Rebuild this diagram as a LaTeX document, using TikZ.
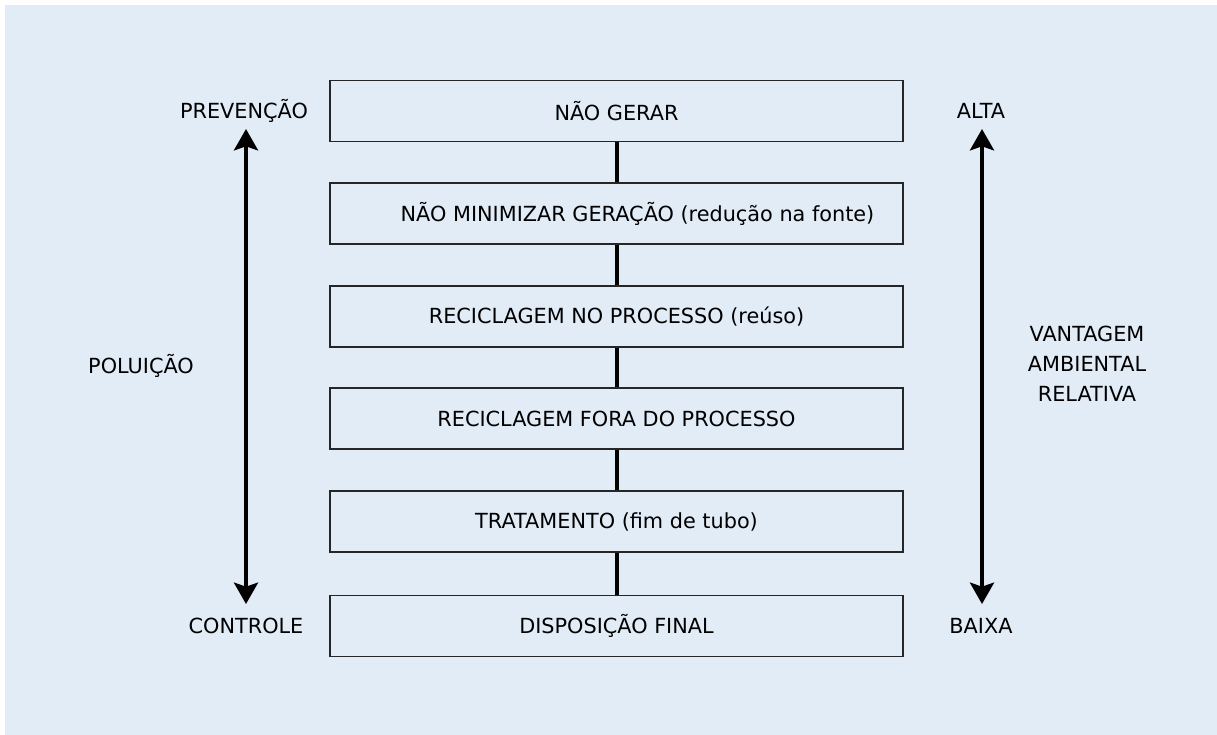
\documentclass[tikz,border=0pt]{standalone}
\usepackage{fontspec}
\setmainfont{DejaVu Sans}
\usetikzlibrary{arrows.meta}
\definecolor{panel}{HTML}{E2ECF7}
\begin{document}
\begin{tikzpicture}[x=0.75pt,y=-0.75pt,
  level/.style={draw=black!85, line width=1.1pt, fill=panel,
    minimum width=429.75pt, minimum height=45.75pt, inner sep=0pt,
    font=\fontsize{15.6}{18}\selectfont},
  lbl/.style={font=\fontsize{15.6}{18}\selectfont, inner sep=0pt},
  link/.style={line width=3pt},
  scale arrow/.style={line width=3pt,
    {Stealth[length=16pt,width=18pt,inset=3pt]}-{Stealth[length=16pt,width=18pt,inset=3pt]}}]
  % page and panel
  \useasboundingbox (0,0) rectangle (1217,735);
  \fill[white] (0,0) rectangle (1217,735);
  \fill[panel] (5,5) rectangle (1217,735);

  % hierarchy levels
  \node[level] (l1) at (616.5,111) {NÃO GERAR};
  \node[level] (l2) at (616.5,213.5) {\hspace*{31.5pt}NÃO MINIMIZAR GERAÇÃO (redução na fonte)};
  \node[level] (l3) at (616.5,316.5) {RECICLAGEM NO PROCESSO (reúso)};
  \node[level] (l4) at (616.5,418.5) {RECICLAGEM FORA DO PROCESSO};
  \node[level] (l5) at (616.5,521.5) {TRATAMENTO (fim de tubo)};
  \node[level] (l6) at (616.5,626) {DISPOSIÇÃO FINAL};

  \draw[link] (l1.south) -- (l2.north);
  \draw[link] (l2.south) -- (l3.north);
  \draw[link] (l3.south) -- (l4.north);
  \draw[link] (l4.south) -- (l5.north);
  \draw[link] (l5.south) -- (l6.north);

  % left scale: pollution
  \node[lbl] (prev) at (244,111) {PREVENÇÃO};
  \node[lbl] (ctrl) at (246,626) {CONTROLE};
  \node[lbl] (polu) at (141,366) {POLUIÇÃO};
  \coordinate (la) at (246,129);
  \coordinate (lb) at (246,604);
  \draw[scale arrow] (la) -- (lb);

  % right scale: relative environmental advantage
  \node[lbl] (alta) at (981,111) {ALTA};
  \node[lbl] (baixa) at (981,626) {BAIXA};
  \node[lbl, align=center, font=\fontsize{15.6}{22.5}\selectfont] (vant) at (1087,364)
    {VANTAGEM\\AMBIENTAL\\RELATIVA};
  \coordinate (ra) at (982,129);
  \coordinate (rb) at (982,604);
  \draw[scale arrow] (ra) -- (rb);
\end{tikzpicture}
\end{document}
